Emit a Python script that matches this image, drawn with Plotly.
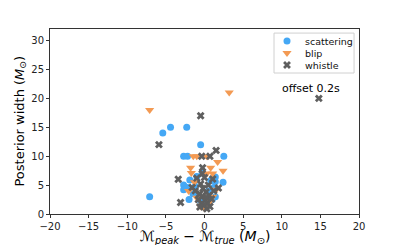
import plotly.graph_objects as go

# scattering (blue circles)
scat_x = [-7.1, -5.4, -4.4, -2.3, -0.5, -2.7, -2.2, 2.5, 2.4, 1.4, 1.4, 1.4, -2.7, -2.7, -1.9,
          -2.0, -0.15, -0.3, -1.0, -1.5, 0.5, -0.8, 1.0, -1.2, 0.8, -0.5, 1.2, -2.2]
scat_y = [3.0, 14.0, 15.0, 15.0, 12.0, 10.0, 10.0, 10.0, 5.5, 3.0, 6.4, 5.6, 5.0, 4.2, 5.9,
          2.5, 1.8, 7.1, 6.5, 3.5, 4.0, 3.0, 2.5, 4.8, 5.8, 2.2, 4.6, 4.6]

# blip (orange triangles)
blip_x = [-7.1, 3.2, -1.45, -1.0, 0.3, 1.7, 2.4, -1.8, -1.7, 0.8, 0.3, 1.06, -2.05, -0.25,
          1.06, 0.7, -1.3, 0.0, -0.5, 0.5, -1.0, 1.5]
blip_y = [18.0, 21.0, 10.0, 10.0, 10.0, 9.0, 7.5, 8.0, 7.1, 8.0, 7.0, 7.0, 4.0, 1.6,
          3.0, 2.1, 5.5, 1.0, 1.3, 1.5, 2.8, 4.2]

# whistle (gray X)
whis_x = [14.8, -0.5, -5.9, -3.4, -3.1, 1.5, -0.36, 0.7, -0.25, -0.3, 1.8, 1.06, -1.0, 0.0,
          0.5, -0.5, -1.2, -0.6, 0.2, -0.3, 0.6, -0.8, 0.1, 0.9, -0.4, 0.4, -0.1, 0.7, -0.6,
          0.2, -0.2, 1.2, -1.6, 0.3]
whis_y = [20.0, 17.0, 12.0, 6.0, 2.0, 11.0, 10.0, 10.0, 8.0, 7.0, 4.5, 6.05, 6.2, 6.3,
          5.0, 5.2, 4.0, 3.5, 3.8, 3.0, 3.2, 2.5, 2.4, 2.6, 1.8, 1.9, 1.5, 1.3, 1.2,
          2.9, 4.4, 4.0, 4.6, 0.9]

x_ticks = [-20, -15, -10, -5, 0, 5, 10, 15, 20]
y_ticks = [0, 5, 10, 15, 20, 25, 30]

series_names = ["scattering", "blip", "whistle"]
series_colors = ["#45a8f5", "#f39a53", "#5f5f5f"]
series_symbols = ["circle", "triangle-down", "x"]
series_sizes = [7, 8, 7]
series_data = [(scat_x, scat_y), (blip_x, blip_y), (whis_x, whis_y)]

fig = go.Figure()
for name, col, sym, sz, (xs, ys) in zip(series_names, series_colors, series_symbols,
                                         series_sizes, series_data):
    fig.add_trace(go.Scatter(x=xs, y=ys, mode="markers", name=name, showlegend=False,
                             marker=dict(symbol=sym, size=sz, color=col)))

# compact legend (matplotlib-like), drawn on an overlay axis measured in plot-area fractions
leg_left, leg_right, leg_top, leg_bottom = 0.725, 0.984, 0.978, 0.762
row_step = 0.065
key_x = 0.767
for i, (name, col, sym, sz) in enumerate(zip(series_names, series_colors, series_symbols, series_sizes)):
    ry = 0.935 - i * row_step
    fig.add_trace(go.Scatter(x=[key_x], y=[ry], mode="markers", showlegend=False,
                             xaxis="x2", yaxis="y2", hoverinfo="skip",
                             marker=dict(symbol=sym, size=sz, color=col)))
    fig.add_annotation(xref="paper", yref="paper", x=0.82, y=ry, text=name,
                       showarrow=False, xanchor="left", yanchor="middle",
                       font=dict(size=9.5, color="#111"))
fig.add_shape(type="rect", xref="paper", yref="paper", x0=leg_left, x1=leg_right,
              y0=leg_bottom, y1=leg_top, line=dict(color="#d0d0d0", width=1),
              fillcolor="rgba(255,255,255,0.8)", layer="below")

fig.add_annotation(x=13.8, y=21.7, text="offset 0.2s", showarrow=False,
                   font=dict(size=11, color="black"))

# axis titles
fig.add_annotation(xref="paper", yref="paper", x=0.5, y=-0.125,
                   text="ℳ<sub><i>peak</i></sub> − ℳ<sub><i>true</i></sub> (<i>M</i><sub>⊙</sub>)",
                   showarrow=False, xanchor="center", yanchor="middle",
                   font=dict(size=14, color="black"))
fig.add_annotation(xref="paper", yref="paper", x=-0.097, y=0.5, textangle=-90,
                   text="Posterior width (<i>M</i><sub>⊙</sub>)",
                   showarrow=False, xanchor="center", yanchor="middle",
                   font=dict(size=13, color="black"))

axis_common = dict(showgrid=False, zeroline=False, showline=True, linecolor="#333",
                   linewidth=1, mirror=True, ticks="outside", ticklen=3, tickcolor="#333",
                   tickfont=dict(size=10, color="#222"), automargin=False)

fig.update_xaxes(range=[-20, 20], tickvals=x_ticks,
                 ticktext=[str(v).replace("-", "−") for v in x_ticks], **axis_common)
fig.update_yaxes(range=[0, 32], tickvals=y_ticks, **axis_common)

# the page body adds an 8px offset, so margins are shifted to keep the plot area in place
fig.update_layout(width=399, height=245, margin=dict(l=42, r=48, t=21, b=39),
                  plot_bgcolor="white", paper_bgcolor="white",
                  font=dict(family="DejaVu Sans"),
                  xaxis2=dict(overlaying="x", range=[0, 1], visible=False, fixedrange=True),
                  yaxis2=dict(overlaying="y", range=[0, 1], visible=False, fixedrange=True))

fig.write_html("out.html")
